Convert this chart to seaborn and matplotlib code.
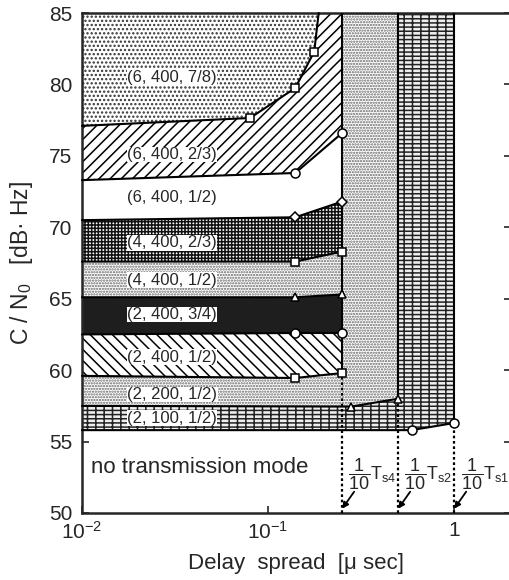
import numpy as np
import pandas as pd
import seaborn as sns
import matplotlib.pyplot as plt

# boundaries between transmission modes (x: delay spread [us], y: C/N0 [dB Hz])
x_top = [0.01, 0.08, 0.14, 0.177, 0.187]
y_a = [77.1, 77.65, 79.75, 82.3, 85.0]      # (6,400,7/8) | (6,400,2/3)
x_mid = [0.01, 0.14, 0.25]
y_b = [73.3, 73.8, 76.6]                    # (6,400,2/3) | (6,400,1/2)
y_c = [70.5, 70.7, 71.8]                    # (6,400,1/2) | (4,400,2/3)
y_d = [67.6, 67.6, 68.3]                    # (4,400,2/3) | (4,400,1/2)
y_e = [65.1, 65.1, 65.3]                    # (4,400,1/2) | (2,400,3/4)
y_f = [62.5, 62.6, 62.6]                    # (2,400,3/4) | (2,400,1/2)
y_g = [59.6, 59.45, 59.8]                   # (2,400,1/2) | (2,200,1/2)
x_h = [0.01, 0.28, 0.5]
y_h = [57.5, 57.45, 58.0]                   # (2,200,1/2) | (2,100,1/2)
x_i = [0.01, 0.59, 1.0]
y_i = [55.8, 55.8, 56.3]                    # (2,100,1/2) | none

mode_labels = ['(6, 400, 7/8)', '(6, 400, 2/3)', '(6, 400, 1/2)',
               '(4, 400, 2/3)', '(4, 400, 1/2)', '(2, 400, 3/4)',
               '(2, 400, 1/2)', '(2, 200, 1/2)', '(2, 100, 1/2)']
label_y = [80.5, 75.1, 72.1, 68.9, 66.3, 63.9, 60.9, 58.3, 56.65]

ts_x = [0.25, 0.5, 1.0]
ts_text_x = [0.362, 0.724, 1.47]
ts_labels = [r'$\dfrac{1}{10}\mathrm{T}_{\mathrm{s4}}$',
             r'$\dfrac{1}{10}\mathrm{T}_{\mathrm{s2}}$',
             r'$\dfrac{1}{10}\mathrm{T}_{\mathrm{s1}}$']

xtick_vals = [0.01, 0.1, 1.0]
xtick_labels = [r'$10^{-2}$', r'$10^{-1}$', '1']
ytick_vals = [50, 55, 60, 65, 70, 75, 80, 85]

sns.set_style('ticks')
plt.rcParams['font.family'] = ['Liberation Sans', 'DejaVu Sans']
plt.rcParams['mathtext.fontset'] = 'custom'
plt.rcParams['mathtext.rm'] = 'Liberation Sans'
plt.rcParams['mathtext.it'] = 'Liberation Sans:italic'
plt.rcParams['hatch.linewidth'] = 1.1

fig = plt.figure(figsize=(5.09, 5.80), dpi=100)
ax = fig.add_axes([82 / 509, 67 / 580, (511 - 82) / 509, 500 / 580])
ax.set_xscale('log')
ax.set_xlim(0.01, 2.02)
ax.set_ylim(50, 85)


def band(xs_lo, ys_lo, xs_hi, ys_hi, face, hatch=None, edge='black'):
    px = list(xs_lo) + list(xs_hi)[::-1]
    py = list(ys_lo) + list(ys_hi)[::-1]
    ax.fill(px, py, facecolor=face, edgecolor=edge, hatch=hatch, linewidth=0, zorder=1)


# filled mode regions
band(x_top, y_a, [0.01, x_top[-1]], [85, 85], 'white', '....', '#333333')
band(x_mid + [0.25], y_b + [85], x_top, y_a, 'white', '///', 'black')
band(x_mid, y_d, x_mid, y_c, 'white', '+++++', '#111111')
band(x_mid, y_e, x_mid, y_d, 'white', '......', '#666666')
band(x_mid, y_f, x_mid, y_e, '#1e1e1e')
band(x_mid, y_g, x_mid, y_f, 'white', '\\\\\\', 'black')
band(x_h + [0.5], y_h + [85], x_mid + [0.25], y_g + [85], 'white', '......', '#666666')
band(x_i + [1.0], y_i + [85], x_h + [0.5], y_h + [85], '#eeeeee', '----||', '#222222')

# boundary curves with markers
curves = [(x_top, y_a, 's', [1, 2, 3]), (x_mid, y_b, 'o', [1, 2]),
          (x_mid, y_c, 'D', [1, 2]), (x_mid, y_d, 's', [1, 2]),
          (x_mid, y_e, '^', [1, 2]), (x_mid, y_f, 'o', [1, 2]),
          (x_mid, y_g, 's', [1, 2]), (x_h, y_h, '^', [1, 2]),
          (x_i, y_i, 'o', [1, 2])]
for xs, ys, mk, every in curves:
    df = pd.DataFrame({'x': xs, 'y': ys})
    ms = 6.5 if mk == 'o' else 5.5
    if mk == 'D':
        ms = 5
    sns.lineplot(data=df, x='x', y='y', ax=ax, color='black', lw=1.5,
                 estimator=None, marker=mk, markevery=every, markersize=ms,
                 markerfacecolor='white', markeredgecolor='black',
                 markeredgewidth=1.1, zorder=4, clip_on=False)

# vertical limits of the modes and dotted guide lines
ends = [y_g[-1], y_h[-1], y_i[-1]]
for xv, ye in zip(ts_x, ends):
    ax.plot([xv, xv], [ye, 85], color='black', lw=1.5, zorder=3)
    ax.plot([xv, xv], [50, ye], color='black', lw=1.6, ls=(0, (1.2, 1.2)), zorder=3)

for txt, yy in zip(mode_labels, label_y):
    ax.text(0.0175, yy, txt, fontsize=12, ha='left', va='center', zorder=5,
            bbox=dict(facecolor='white', edgecolor='none', pad=0.3))

ax.text(0.0112, 53.2, 'no transmission mode', fontsize=16, ha='left', va='center')

for xv, tx, lab in zip(ts_x, ts_text_x, ts_labels):
    ax.text(tx, 52.7, lab, fontsize=13, ha='center', va='center', zorder=5)
    ax.annotate('', xy=(xv, 50.3), xytext=(12, 17), textcoords='offset pixels',
                arrowprops=dict(arrowstyle='-|>', color='black', lw=1.3,
                                mutation_scale=9, shrinkA=0, shrinkB=0))

ax.set_xticks(xtick_vals)
ax.set_xticklabels(xtick_labels)
ax.xaxis.set_minor_locator(plt.NullLocator())
ax.set_yticks(ytick_vals)
ax.tick_params(axis='both', direction='in', labelsize=15, length=5, width=1.2)
ax.tick_params(axis='y', right=True, pad=7)
ax.tick_params(axis='x', pad=6)

for s in ax.spines.values():
    s.set_linewidth(1.8)

ax.set_xlabel('Delay  spread  [\u03bc sec]', fontsize=16, labelpad=7)
ax.set_ylabel('C / N$_0$   [dB\u00b7 Hz]', fontsize=16.5, labelpad=10)

fig.savefig('out.png', dpi=100)
